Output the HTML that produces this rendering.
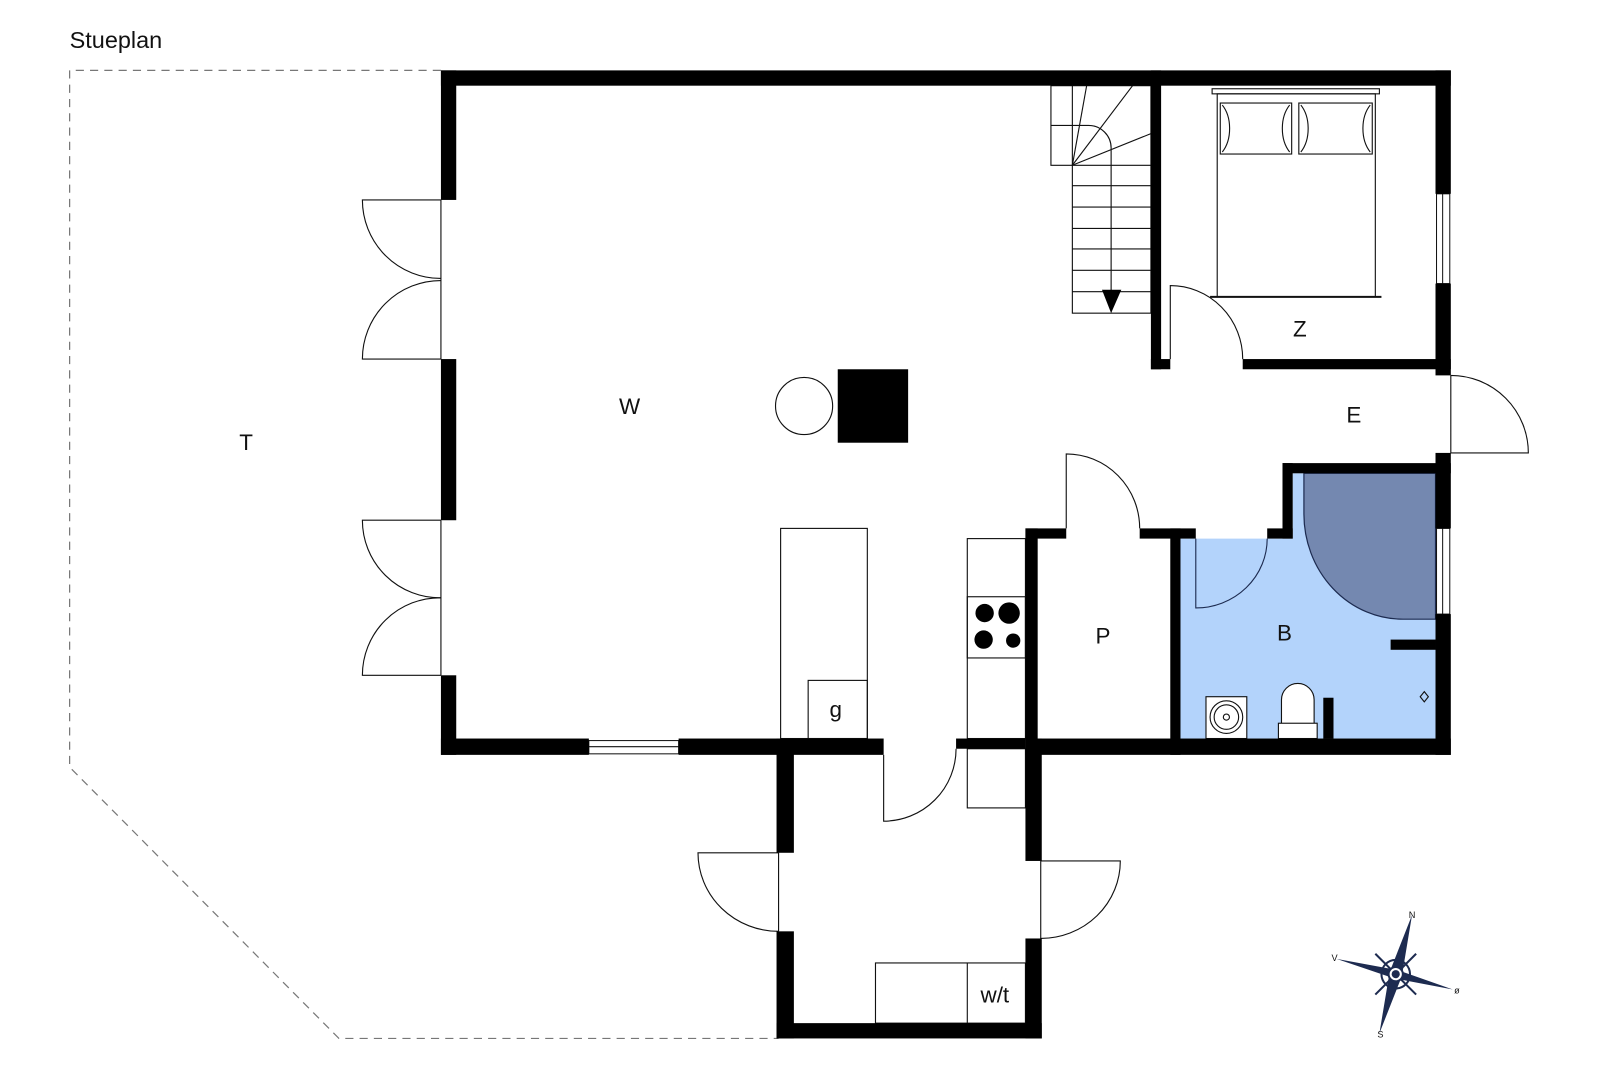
<!DOCTYPE html>
<html><head><meta charset="utf-8"><style>html,body{margin:0;padding:0;background:#fff}svg{display:block}text{font-family:"Liberation Sans",sans-serif;fill:#111}</style></head><body>
<svg width="1600" height="1067" viewBox="0 0 1568 1046" xmlns="http://www.w3.org/2000/svg">
<text x="68" y="47" font-size="23">Stueplan</text>
<!-- terrace dashed -->
<path d="M432 69 L68 69 L68 752 L332 1018 L763 1018" fill="none" stroke="#777" stroke-width="1.2" stroke-dasharray="8 6"/>
<!-- bath fill -->
<path d="M1157 528 L1267 528 L1267 464 L1407 464 L1407 724 L1157 724 Z" fill="#b3d3fb"/>
<path d="M1278 464 L1407 464 L1407 607 L1375 607 A97 103 0 0 1 1278 504 Z" fill="#7488b0" stroke="#1d2b50" stroke-width="1.2"/>
<g fill="none" stroke="#111" stroke-width="1.1">
<!-- left doors -->
<line x1="432" y1="196" x2="432" y2="352"/><line x1="432" y1="510" x2="432" y2="662"/>
<path d="M432 196 L355 196 A77 77 0 0 0 432 273"/>
<path d="M432 352 L355 352 A77 77 0 0 1 432 275"/>
<path d="M432 510 L355 510 A76 76 0 0 0 432 586"/>
<path d="M432 662 L355 662 A76 76 0 0 1 432 586"/>
<!-- stairs -->
<rect x="1051" y="84" width="77" height="223"/>
<path d="M1051 84 L1030 84 L1030 162 L1051 162"/><line x1="1030" y1="123" x2="1051" y2="123"/>
<line x1="1051" y1="182" x2="1128" y2="182"/><line x1="1051" y1="203" x2="1128" y2="203"/><line x1="1051" y1="224" x2="1128" y2="224"/><line x1="1051" y1="244" x2="1128" y2="244"/><line x1="1051" y1="265" x2="1128" y2="265"/><line x1="1051" y1="286" x2="1128" y2="286"/><line x1="1051" y1="162" x2="1128" y2="162"/>
<line x1="1051" y1="162" x2="1065" y2="84"/><line x1="1051" y1="162" x2="1110" y2="84"/><line x1="1051" y1="162" x2="1128" y2="131"/>
<path d="M1089 300 L1089 145 A22 22 0 0 0 1067 123 L1051 123"/>
<!-- bed -->
<rect x="1188" y="87" width="164" height="5"/>
<rect x="1193" y="92" width="155" height="199"/>
<line x1="1186" y1="291" x2="1354" y2="291" stroke-width="2"/>
<rect x="1196" y="101" width="70" height="50"/><rect x="1273" y="101" width="72" height="50"/>
<path d="M1198 103 A20 30 0 0 1 1198 149 M1264 103 A20 30 0 0 0 1264 149 M1275 103 A20 30 0 0 1 1275 149 M1343 103 A20 30 0 0 0 1343 149"/>
<!-- bedroom door -->
<path d="M1147 352 L1147 280 A71 72 0 0 1 1218 352"/>
<!-- E door -->
<path d="M1422 368 L1422 444 L1498 444 A76 76 0 0 0 1422 368"/>
<!-- island -->
<rect x="765" y="518" width="85" height="206"/><rect x="792" y="667" width="58" height="57"/>
<!-- kitchen counter -->
<rect x="948" y="528" width="57" height="196"/><rect x="948" y="585" width="57" height="60"/>
<rect x="948" y="734" width="57" height="58"/>
<!-- pantry door -->
<path d="M1045 518 L1045 445 A72 73 0 0 1 1117 518"/>
<!-- bath door -->
<path d="M1172 528 L1172 596 A70 68 0 0 0 1242 528" stroke="#1d2b50"/>
<!-- inner door -->
<path d="M866 740 L866 805 A71 71 0 0 0 937 734"/>
<!-- entry doors -->
<path d="M763 836 L763 913 M763 836 L684 836 A79 77 0 0 0 763 913"/>
<path d="M1020 844 L1020 920 M1020 844 L1098 844 A78 76 0 0 1 1020 920"/>
<rect x="858" y="944" width="147" height="59"/><line x1="948" y1="944" x2="948" y2="1003"/>
<!-- chimney circle -->
<circle cx="788" cy="398" r="28"/>
<!-- sink & toilet -->
<rect x="1182" y="683" width="40" height="41" fill="#fff"/>
<circle cx="1202" cy="703" r="16"/><circle cx="1202" cy="703" r="12"/><circle cx="1202" cy="703" r="3"/>
<path d="M1256 724 L1256 686 A16 16 0 0 1 1288 686 L1288 724 Z" fill="#fff"/>
<rect x="1253" y="709" width="38" height="15" fill="#fff"/>
<path d="M1396 678 L1400 683 L1396 688 L1392 683 Z"/>
</g>
<!-- windows -->
<g fill="#fff" stroke="#111" stroke-width="1">
<rect x="577" y="726" width="88" height="13"/><line x1="577" y1="732" x2="665" y2="732"/>
<rect x="1408" y="190" width="13" height="88"/><line x1="1414" y1="190" x2="1414" y2="278"/>
<rect x="1408" y="518" width="13" height="84"/><line x1="1414" y1="518" x2="1414" y2="602"/>
</g>
<!-- walls -->
<g fill="#000">
<rect x="432" y="69" width="990" height="15"/>
<rect x="432" y="69" width="15" height="127"/><rect x="432" y="352" width="15" height="158"/><rect x="432" y="662" width="15" height="78"/>
<rect x="432" y="724" width="145" height="16"/><rect x="665" y="724" width="201" height="16"/>
<rect x="937" y="724" width="68" height="10"/><rect x="1005" y="724" width="417" height="16"/>
<rect x="1407" y="69" width="15" height="121"/><rect x="1407" y="278" width="15" height="90"/><rect x="1407" y="444" width="15" height="74"/><rect x="1407" y="602" width="15" height="138"/>
<rect x="1128" y="69" width="10" height="293"/><rect x="1128" y="352" width="19" height="10"/><rect x="1218" y="352" width="204" height="10"/>
<rect x="1005" y="518" width="12" height="222"/><rect x="1005" y="518" width="40" height="10"/><rect x="1117" y="518" width="55" height="10"/><rect x="1147" y="518" width="10" height="222"/>
<rect x="1242" y="518" width="25" height="10"/><rect x="1257" y="454" width="10" height="74"/><rect x="1257" y="454" width="165" height="10"/>
<rect x="1363" y="627" width="44" height="10"/><rect x="1297" y="684" width="10" height="40"/>
<rect x="821" y="362" width="69" height="72"/>
<rect x="761" y="724" width="17" height="112"/><rect x="761" y="913" width="17" height="105"/><rect x="761" y="1003" width="260" height="15"/>
<rect x="1005" y="724" width="16" height="120"/><rect x="1005" y="920" width="16" height="98"/>
<circle cx="965" cy="601" r="9"/><circle cx="989" cy="601" r="10.5"/><circle cx="964" cy="627" r="9"/><circle cx="993" cy="628" r="7"/>
<path d="M1080 284 L1099 284 L1089 307 Z"/>
</g>
<!-- labels -->
<g font-size="22" text-anchor="middle">
<text x="617" y="406">W</text><text x="241" y="441">T</text><text x="1274" y="330">Z</text><text x="1327" y="414">E</text>
<text x="1081" y="631">P</text><text x="1259" y="628">B</text><text x="819" y="703">g</text><text x="975" y="983">w/t</text>
</g>
<!-- compass -->
<g transform="translate(1368,955)">
<g stroke="#1d2b50" stroke-width="2" fill="none"><circle r="14"/><line x1="-20" y1="-20" x2="20" y2="20"/><line x1="20" y1="-20" x2="-20" y2="20"/></g>
<path d="M16 -58 L6 2 L-16 58 L-6 -2 Z" fill="#1d2b50"/>
<path d="M-58 -15 L2 -4 L56 15 L-2 4 Z" fill="#1d2b50"/>
<circle r="7" fill="#fff" stroke="#1d2b50" stroke-width="2"/><circle r="4" fill="#1d2b50"/>
<text x="16" y="-55" font-size="9" text-anchor="middle">N</text>
<text x="-60" y="-13" font-size="9" text-anchor="middle">V</text>
<text x="60" y="19" font-size="9" text-anchor="middle">ø</text>
<text x="-15" y="62" font-size="9" text-anchor="middle">S</text>
</g>
</svg>
</body></html>
